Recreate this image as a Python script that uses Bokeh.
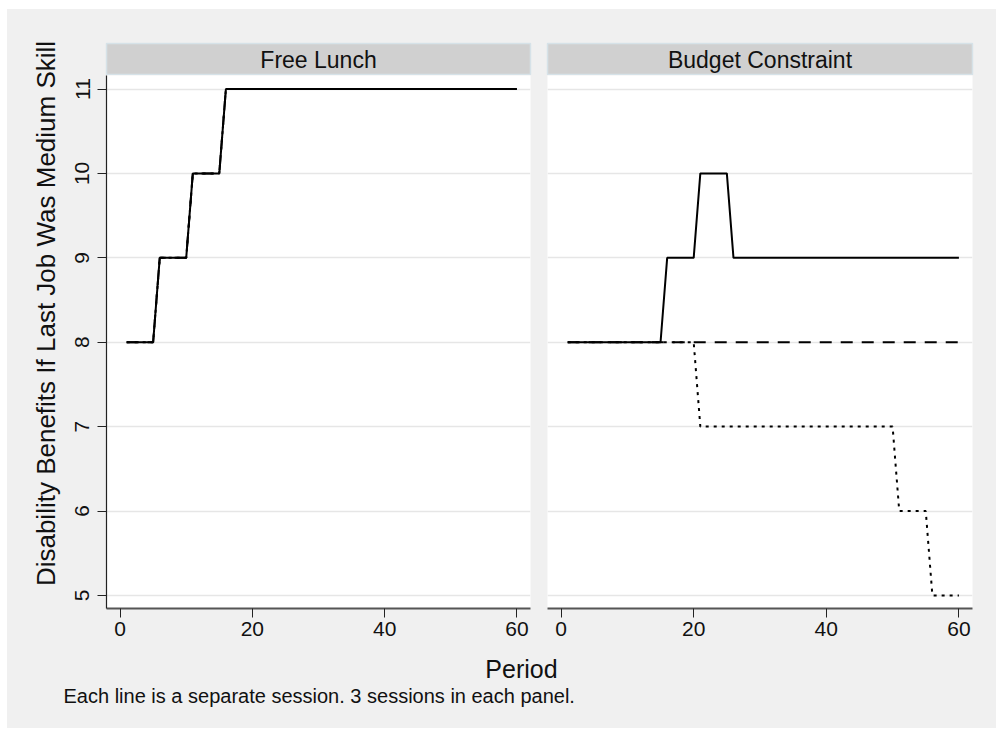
import math
from bokeh.plotting import figure
from bokeh.layouts import column, row
from bokeh.models import Range1d, FixedTicker, Label
from bokeh.embed import file_html
from bokeh.resources import INLINE

# ---- data (vertices of each session's path: period, benefit level) ----
panels = ["Free Lunch", "Budget Constraint"]

fl_s1_period = [1, 5, 6, 10, 11, 15, 16, 60]
fl_s1_value = [8, 8, 9, 9, 10, 10, 11, 11]
fl_s2_period = [1, 5, 6, 10, 11, 15, 16, 60]
fl_s2_value = [8, 8, 9, 9, 10, 10, 11, 11]
fl_s3_period = [1, 5, 6, 10, 11, 15, 16, 60]
fl_s3_value = [8, 8, 9, 9, 10, 10, 11, 11]

bc_s1_period = [1, 15, 16, 20, 21, 25, 26, 60]
bc_s1_value = [8, 8, 9, 9, 10, 10, 9, 9]
bc_s2_period = [1, 60]
bc_s2_value = [8, 8]
bc_s3_period = [1, 20, 21, 50, 51, 55, 56, 60]
bc_s3_value = [8, 8, 7, 7, 6, 6, 5, 5]

x_ticks = [0, 20, 40, 60]
y_ticks = [5, 6, 7, 8, 9, 10, 11]

y_title = "Disability Benefits If Last Job Was Medium Skill"
x_title = "Period"
note = "Each line is a separate session. 3 sessions in each panel."

FONT = "Liberation Sans"
BG = "#f0f0f0"
dashes = ["solid", "12 9", "3 5"]

YW = 56                    # width of the y-title strip
LW, RW = 476, 457          # widths of the left / right columns
LB, LR = 43, 9             # left column frame borders
RB, RR = 8, 24             # right column frame borders
HH, PH, BH = 66, 577, 76   # header, panel, bottom heights


def header(text, width, left, right):
    h = figure(width=width, height=HH, x_range=Range1d(0, 1), y_range=Range1d(0, 1),
               output_backend="svg", toolbar_location=None,
               x_axis_location=None, y_axis_location=None,
               min_border_left=left, min_border_right=right,
               min_border_top=34, min_border_bottom=0)
    h.border_fill_color = BG
    h.background_fill_color = "#d0d0d0"
    h.outline_line_color = "#d6e2e8"
    h.outline_line_width = 1.5
    h.grid.visible = False
    h.add_layout(Label(x=0.5, y=0.5, text=text, text_align="center",
                       text_baseline="middle", text_font=FONT,
                       text_font_size="23px", text_color="#111111"))
    return h


def panel(width, left, right, series, show_y):
    p = figure(width=width, height=PH,
               x_range=Range1d(-2.05, 62.05), y_range=Range1d(4.845, 11.16),
               output_backend="svg", toolbar_location=None,
               min_border_left=left, min_border_right=right,
               min_border_top=0, min_border_bottom=44)
    p.border_fill_color = BG
    p.background_fill_color = "white"
    p.outline_line_color = None
    p.xgrid.visible = False
    p.ygrid.grid_line_color = "#e6e6e6"
    p.ygrid.grid_line_width = 1.5
    p.xaxis.ticker = FixedTicker(ticks=x_ticks)
    p.yaxis.ticker = FixedTicker(ticks=y_ticks)
    for ax in (p.xaxis, p.yaxis):
        ax.major_tick_in = 0
        ax.major_tick_out = 9
        ax.minor_tick_line_color = None
        ax.major_label_text_font = FONT
        ax.major_label_text_font_size = "21px"
        ax.major_label_text_color = "#111111"
        ax.major_tick_line_color = "#222222"
    p.xaxis.axis_line_color = "#555555"
    p.xaxis.axis_line_width = 2
    p.xaxis.major_label_standoff = 4
    p.yaxis.axis_line_color = "#222222"
    p.yaxis.axis_line_width = 1.2
    p.yaxis.major_label_orientation = "vertical"
    p.yaxis.major_label_standoff = 8
    if not show_y:
        p.yaxis.visible = False
    for (xs, ys), d in zip(series, dashes):
        p.line(xs, ys, line_color="black", line_width=2, line_dash=d)
    return p


lh = header(panels[0], LW, LB, LR)
rh = header(panels[1], RW, RB, RR)
lp = panel(LW, LB, LR, [(fl_s1_period, fl_s1_value), (fl_s2_period, fl_s2_value),
                        (fl_s3_period, fl_s3_value)], True)
rp = panel(RW, RB, RR, [(bc_s1_period, bc_s1_value), (bc_s2_period, bc_s2_value),
                        (bc_s3_period, bc_s3_value)], False)

# strip holding the y-axis title
yt = figure(width=YW, height=HH + PH, x_range=Range1d(0, YW), y_range=Range1d(HH + PH, 0),
            output_backend="svg", toolbar_location=None,
            x_axis_location=None, y_axis_location=None,
            min_border_left=0, min_border_right=0, min_border_top=0, min_border_bottom=0)
yt.border_fill_color = BG
yt.background_fill_color = BG
yt.outline_line_color = None
yt.grid.visible = False
yt.add_layout(Label(x=38, y=304, text=y_title, angle=math.pi / 2, text_align="center",
                    text_baseline="middle", text_font=FONT, text_font_size="26px",
                    text_color="#111111"))

TW = YW + LW + RW
bottom = figure(width=TW, height=BH, x_range=Range1d(0, TW), y_range=Range1d(BH, 0),
                output_backend="svg", toolbar_location=None,
                x_axis_location=None, y_axis_location=None,
                min_border_left=0, min_border_right=0, min_border_top=0, min_border_bottom=0)
bottom.border_fill_color = BG
bottom.background_fill_color = BG
bottom.outline_line_color = None
bottom.grid.visible = False
bottom.add_layout(Label(x=514, y=16, text=x_title, text_align="center", text_baseline="middle",
                        text_font=FONT, text_font_size="25px", text_color="#111111"))
bottom.add_layout(Label(x=56, y=43, text=note, text_align="left", text_baseline="middle",
                        text_font=FONT, text_font_size="20px", text_color="#111111"))

bgstyle = {"background-color": BG}
panels_block = column(row(lh, rh, spacing=0, styles=bgstyle),
                      row(lp, rp, spacing=0, styles=bgstyle),
                      spacing=0, styles=bgstyle)
layout = column(row(yt, panels_block, spacing=0, styles=bgstyle),
                bottom, spacing=0,
                styles={"background-color": BG, "margin-left": "7px", "margin-top": "9px"})

open("out.html", "w").write(file_html(layout, INLINE))
